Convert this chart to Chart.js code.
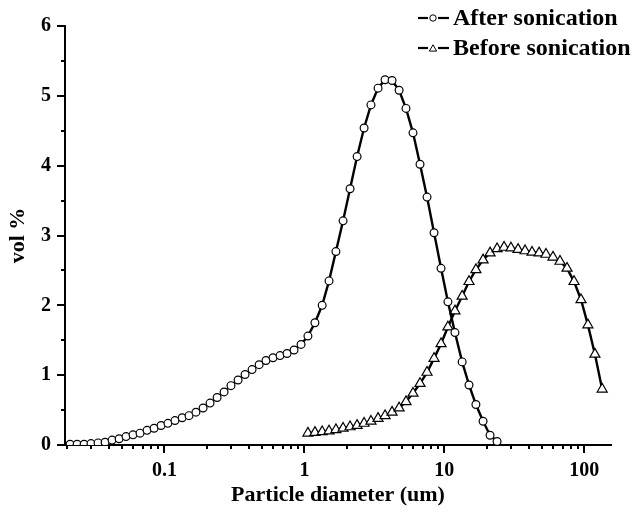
<!DOCTYPE html>
<html>
<head>
<meta charset="utf-8">
<title>Particle size distribution</title>
<script src="https://cdn.jsdelivr.net/npm/chart.js@4.4.1/dist/chart.umd.min.js"></script>
<style>
  html, body { margin: 0; padding: 0; background: #fff; }
  #wrap { width: 636px; height: 514px; }
</style>
</head>
<body>
<div id="wrap"><canvas id="psd" width="636" height="514"></canvas></div>
<script>
// particle diameter of each size class (um)
const diameters = [
  0.0212, 0.0238, 0.0267, 0.0299, 0.0336, 0.0377, 0.0423, 0.0475, 0.0532, 0.0597,
  0.0670, 0.0752, 0.0844, 0.0947, 0.106, 0.119, 0.134, 0.150, 0.168, 0.189,
  0.212, 0.238, 0.267, 0.299, 0.336, 0.377, 0.423, 0.475, 0.532, 0.597,
  0.670, 0.752, 0.844, 0.947, 1.06, 1.19, 1.34, 1.50, 1.68, 1.89,
  2.12, 2.38, 2.67, 2.99, 3.36, 3.77, 4.23, 4.75, 5.32, 5.97,
  6.70, 7.52, 8.44, 9.47, 10.6, 11.9, 13.4, 15.0, 16.8, 18.9,
  21.2, 23.8, 26.7, 29.9, 33.6, 37.7, 42.3, 47.5, 53.2, 59.7,
  67.0, 75.2, 84.4, 94.7, 106, 119, 134
];

// vol % per class, after sonication (classes 0.0212 .. 23.8 um)
const afterSonication = [
  0.01, 0.01, 0.01, 0.02, 0.03, 0.04, 0.07, 0.09, 0.12, 0.145,
  0.17, 0.21, 0.24, 0.28, 0.31, 0.35, 0.39, 0.42, 0.47, 0.53,
  0.60, 0.68, 0.76, 0.85, 0.93, 1.01, 1.08, 1.15, 1.21, 1.25,
  1.28, 1.31, 1.36, 1.44, 1.56, 1.75, 2.00, 2.35, 2.77, 3.21,
  3.67, 4.13, 4.54, 4.87, 5.11, 5.23, 5.22, 5.08, 4.82, 4.47,
  4.02, 3.55, 3.04, 2.53, 2.05, 1.61, 1.19, 0.86, 0.58, 0.34,
  0.14, 0.05
];

// vol % per class, before sonication (classes 1.06 .. 134 um)
const beforeStart = 34;
const beforeSonication = [
  0.17, 0.18, 0.19, 0.20, 0.22, 0.24, 0.26, 0.28, 0.31, 0.34,
  0.38, 0.42, 0.47, 0.53, 0.62, 0.74, 0.88, 1.04, 1.24, 1.45,
  1.69, 1.92, 2.13, 2.34, 2.51, 2.65, 2.75, 2.81, 2.83, 2.82,
  2.80, 2.78, 2.76, 2.75, 2.73, 2.69, 2.63, 2.53, 2.34, 2.08,
  1.72, 1.30, 0.80
];

const seriesNames = ['After sonication', 'Before sonication'];
const xTickValues = [0.1, 1, 10, 100];
const yTickValues = [0, 1, 2, 3, 4, 5, 6];

const FONT = '"Liberation Serif", "Times New Roman", serif';

const afterPoints = afterSonication.map((v, i) => ({ x: diameters[i], y: v }));
const beforePoints = beforeSonication.map((v, i) => ({ x: diameters[beforeStart + i], y: v }));

function segment(ctx, x1, y1, x2, y2) {
  ctx.beginPath();
  ctx.moveTo(x1, y1);
  ctx.lineTo(x2, y2);
  ctx.stroke();
}

// outward major / minor tick marks on both axes
const tickMarks = {
  id: 'tickMarks',
  afterDraw(chart) {
    const { ctx, chartArea } = chart;
    const x = chart.scales.x, y = chart.scales.y;
    ctx.save();
    ctx.strokeStyle = '#000';
    ctx.lineWidth = 2;
    for (let d = 0.01; d < 1000; d *= 10) {
      for (let m = 1; m <= 9; m++) {
        const v = d * m;
        if (v < x.min || v > x.max) continue;
        const px = Math.round(x.getPixelForValue(v));
        segment(ctx, px, chartArea.bottom, px, chartArea.bottom + (m === 1 ? 8 : 4));
      }
    }
    for (let v = 0; v <= 6; v += 0.5) {
      const py = Math.round(y.getPixelForValue(v));
      const major = Number.isInteger(v);
      segment(ctx, chartArea.left, py, chartArea.left - (major ? 8 : 4), py);
    }
    ctx.restore();
  }
};

// legend in the top right corner: line - marker - line, then the name
const lineLegend = {
  id: 'lineLegend',
  afterDraw(chart) {
    const ctx = chart.ctx;
    const rows = [18, 48];
    ctx.save();
    chart.data.datasets.forEach((ds, i) => {
      const cy = rows[i];
      const x0 = 418;
      const tri = ds.pointStyle === 'triangle';
      ctx.strokeStyle = '#000';
      ctx.lineWidth = 2.2;
      segment(ctx, x0, cy, x0 + 10, cy);
      segment(ctx, x0 + 20, cy, x0 + 31, cy);
      ctx.fillStyle = '#fff';
      ctx.lineWidth = 1;
      Chart.helpers.drawPoint(ctx, {
        pointStyle: ds.pointStyle,
        radius: tri ? 4.2 : 3.2,
        borderWidth: 1
      }, x0 + 15, cy + (tri ? 1 : 0));
      ctx.fillStyle = '#000';
      ctx.font = 'bold 24px ' + FONT;
      ctx.textBaseline = 'middle';
      ctx.textAlign = 'left';
      ctx.fillText(ds.label, x0 + 35, cy + 1);
    });
    ctx.restore();
  }
};

const tickFont = { family: FONT, size: 20, weight: 'bold' };
const titleFont = { family: FONT, size: 22, weight: 'bold' };

new Chart(document.getElementById('psd'), {
  type: 'scatter',
  data: {
    datasets: [
      {
        label: seriesNames[0],
        data: afterPoints,
        showLine: true,
        borderColor: '#000',
        borderWidth: 2.4,
        pointStyle: 'circle',
        pointRadius: 3.9,
        pointBorderWidth: 1.2,
        pointBackgroundColor: '#fff',
        pointBorderColor: '#000'
      },
      {
        label: seriesNames[1],
        data: beforePoints,
        showLine: true,
        borderColor: '#000',
        borderWidth: 2.4,
        pointStyle: 'triangle',
        pointRadius: 5.8,
        pointBorderWidth: 1.2,
        pointBackgroundColor: '#fff',
        pointBorderColor: '#000'
      }
    ]
  },
  options: {
    responsive: false,
    animation: false,
    devicePixelRatio: 1,
    layout: { padding: { left: 0, top: 18, right: 25, bottom: 0 } },
    plugins: {
      legend: { display: false },
      tooltip: { enabled: false }
    },
    scales: {
      x: {
        type: 'logarithmic',
        min: 0.0195,
        max: 155,
        grid: { display: false, drawTicks: false },
        border: { display: true, color: '#000', width: 2 },
        afterBuildTicks(scale) {
          scale.ticks = xTickValues.map(v => ({ value: v }));
        },
        afterFit(scale) { scale.height = 69; },
        ticks: {
          color: '#000',
          font: tickFont,
          padding: 14,
          maxRotation: 0,
          autoSkip: false,
          callback: v => String(v)
        },
        title: {
          display: true,
          text: 'Particle diameter (um)',
          color: '#000',
          font: titleFont,
          padding: { top: 0, bottom: 5 }
        }
      },
      y: {
        min: 0,
        max: 6,
        grid: { display: false, drawTicks: false },
        border: { display: true, color: '#000', width: 2 },
        afterBuildTicks(scale) {
          scale.ticks = yTickValues.map(v => ({ value: v }));
        },
        afterFit(scale) { scale.width = 65; },
        ticks: {
          color: '#000',
          font: tickFont,
          padding: 14,
          callback: v => String(v)
        },
        title: {
          display: true,
          text: 'vol %',
          color: '#000',
          font: titleFont,
          padding: { top: 5, bottom: 0 }
        }
      }
    }
  },
  plugins: [tickMarks, lineLegend]
});
</script>
</body>
</html>
